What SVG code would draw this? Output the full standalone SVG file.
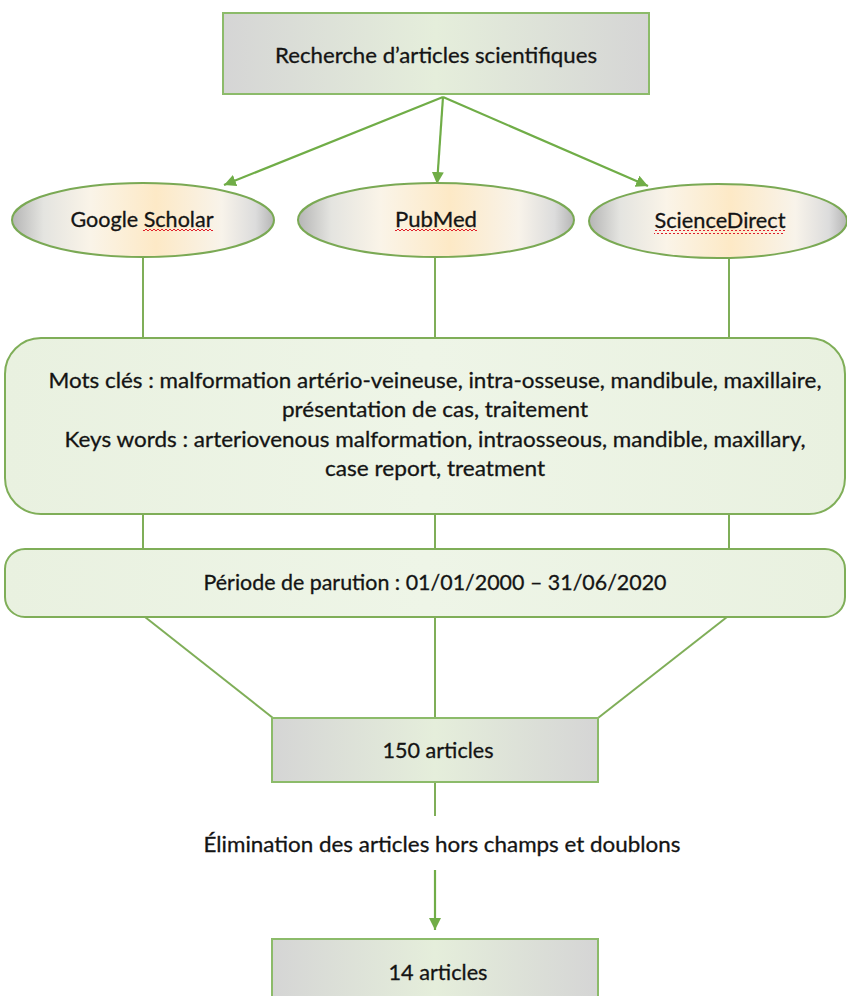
<svg xmlns="http://www.w3.org/2000/svg" width="847" height="996" viewBox="0 0 847 996">
<style>
text{font-family:Lato,"Noto Sans","Liberation Sans",sans-serif;font-size:22px;fill:#141414;stroke:#141414;stroke-width:0.3;text-anchor:middle}
.box{fill:url(#gBox);stroke:#8cbb6a;stroke-width:2}
.ell{fill:url(#gEll);stroke:#7aa954;stroke-width:2}
.rnd{fill:url(#gRnd);stroke:#7fae58;stroke-width:2}
.ln{stroke:#7fae58;stroke-width:2;fill:none}
.ar{stroke:#70ad47;stroke-width:2.2;fill:none;marker-end:url(#ah)}
</style>
<defs>
<linearGradient id="gBox" x1="0" y1="0" x2="1" y2="0">
<stop offset="0" stop-color="#d5d5d5"/><stop offset="0.5" stop-color="#e5eedb"/><stop offset="1" stop-color="#d5d5d5"/>
</linearGradient>
<linearGradient id="gEll" x1="0" y1="0" x2="1" y2="0">
<stop offset="0" stop-color="#b5b5b5"/><stop offset="0.12" stop-color="#e4e4e0"/><stop offset="0.3" stop-color="#faf4e8"/><stop offset="0.55" stop-color="#fde9c6"/><stop offset="0.8" stop-color="#f8f3ea"/><stop offset="0.93" stop-color="#dcdcdc"/><stop offset="1" stop-color="#b5b5b5"/>
</linearGradient>
<linearGradient id="gRnd" x1="0" y1="0" x2="1" y2="0">
<stop offset="0" stop-color="#e9f1e0"/><stop offset="0.5" stop-color="#eef5e7"/><stop offset="1" stop-color="#e9f1e0"/>
</linearGradient>
<pattern id="wave" width="4" height="4" patternUnits="userSpaceOnUse">
<path d="M0 3 L2 1 L4 3" stroke="#e0202a" stroke-width="1" fill="none"/>
</pattern>
<marker id="ah" markerUnits="userSpaceOnUse" markerWidth="14" markerHeight="14" refX="12" refY="6" orient="auto">
<path d="M0 0 L12 6 L0 12 z" fill="#70ad47"/>
</marker>
</defs>

<g id="connectors">
<line class="ar" x1="443" y1="97" x2="224" y2="185"/>
<line class="ar" x1="443" y1="97" x2="437" y2="184"/>
<line class="ar" x1="443" y1="97" x2="648" y2="186"/>
<line class="ln" x1="143" y1="257" x2="143" y2="338"/>
<line class="ln" x1="435" y1="257" x2="435" y2="338"/>
<line class="ln" x1="729" y1="258" x2="729" y2="338"/>
<line class="ln" x1="143" y1="514" x2="143" y2="549"/>
<line class="ln" x1="435" y1="514" x2="435" y2="549"/>
<line class="ln" x1="729" y1="514" x2="729" y2="549"/>
<line class="ln" x1="145" y1="617" x2="273" y2="718"/>
<line class="ln" x1="435" y1="617" x2="435" y2="718"/>
<line class="ln" x1="727" y1="617" x2="598" y2="718"/>
<line class="ln" x1="435" y1="782" x2="435" y2="816"/>
<line class="ar" x1="435" y1="870" x2="435" y2="930"/>
</g>

<g id="recherche">
<rect class="box" x="223" y="13" width="426" height="81"/>
<text x="436" y="63" textLength="322" lengthAdjust="spacingAndGlyphs">Recherche d’articles scientifiques</text>
</g>

<g id="google">
<ellipse class="ell" cx="143" cy="220" rx="131" ry="37"/>
<text x="142" y="227" textLength="143" lengthAdjust="spacingAndGlyphs">Google Scholar</text>
<rect x="143" y="229" width="70" height="4" fill="url(#wave)"/>
</g>

<g id="pubmed">
<ellipse class="ell" cx="436" cy="220" rx="138" ry="37"/>
<text x="436" y="227" textLength="82" lengthAdjust="spacingAndGlyphs">PubMed</text>
<rect x="395" y="229" width="82" height="4" fill="url(#wave)"/>
</g>

<g id="sciencedirect">
<ellipse class="ell" cx="718" cy="221" rx="129" ry="37"/>
<text x="720" y="228" textLength="131" lengthAdjust="spacingAndGlyphs">ScienceDirect</text>
<rect x="654" y="230" width="131" height="4" fill="url(#wave)"/>
</g>

<g id="motscles">
<rect class="rnd" x="5" y="338" width="840" height="176" rx="36" ry="36"/>
<text x="435" y="388" textLength="773" lengthAdjust="spacingAndGlyphs">Mots clés : malformation artério-veineuse, intra-osseuse, mandibule, maxillaire,</text>
<text x="435" y="417" textLength="306" lengthAdjust="spacingAndGlyphs">présentation de cas, traitement</text>
<text x="435" y="447" textLength="741" lengthAdjust="spacingAndGlyphs">Keys words : arteriovenous malformation, intraosseous, mandible, maxillary,</text>
<text x="435" y="476" textLength="220" lengthAdjust="spacingAndGlyphs">case report, treatment</text>
</g>

<g id="periode">
<rect class="rnd" x="5" y="549" width="840" height="68" rx="20" ry="20"/>
<text x="435" y="590" textLength="463" lengthAdjust="spacingAndGlyphs">Période de parution : 01/01/2000 – 31/06/2020</text>
</g>

<g id="articles150">
<rect class="box" x="272" y="718" width="326" height="64"/>
<text x="438" y="758" textLength="111" lengthAdjust="spacingAndGlyphs">150 articles</text>
</g>

<g id="elimination">
<text x="442" y="852" textLength="477" lengthAdjust="spacingAndGlyphs">Élimination des articles hors champs et doublons</text>
</g>

<g id="articles14">
<rect class="box" x="272" y="939" width="326" height="70"/>
<text x="438" y="980" textLength="99" lengthAdjust="spacingAndGlyphs">14 articles</text>
</g>
</svg>
